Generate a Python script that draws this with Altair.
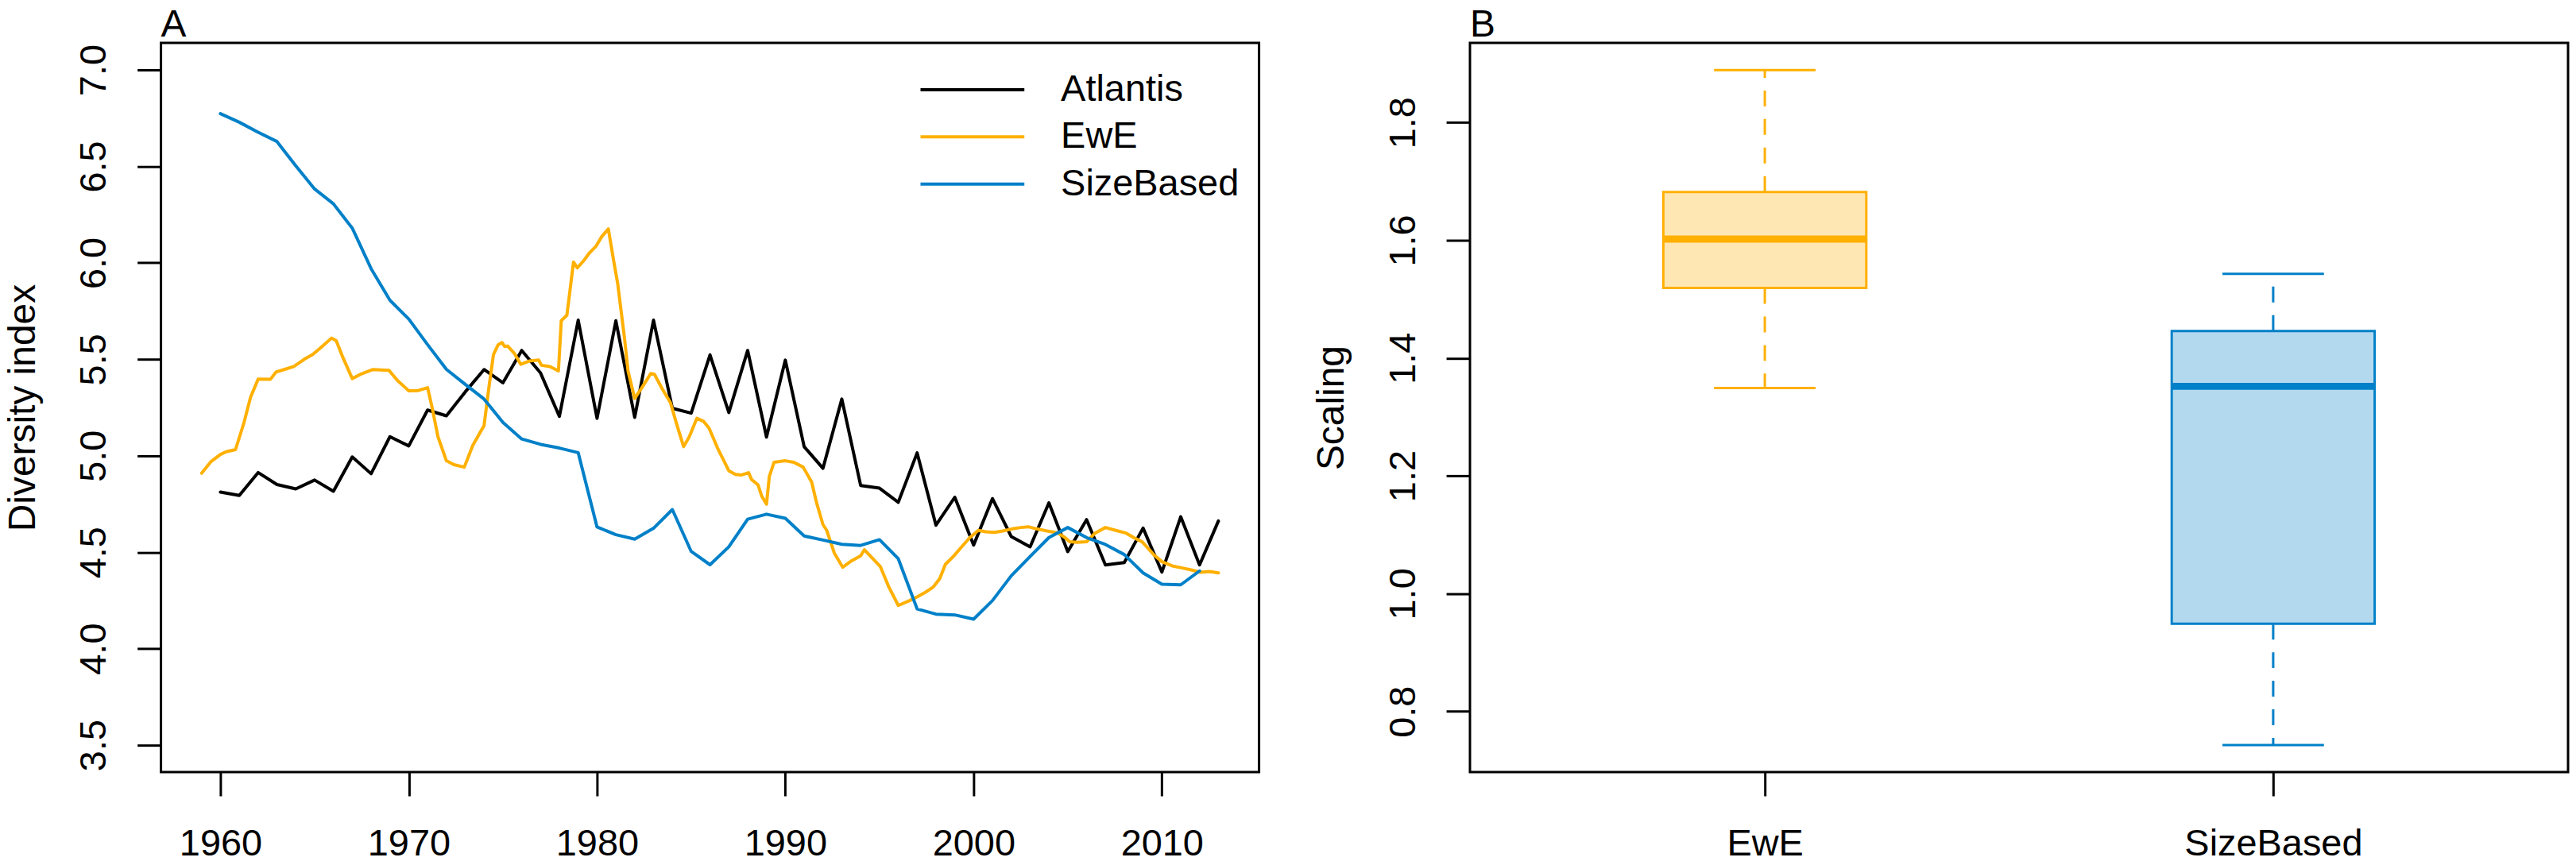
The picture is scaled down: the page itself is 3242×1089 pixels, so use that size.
import altair as alt
import pandas as pd

# ---------------- data: panel A ----------------
series_names = ["Atlantis", "EwE", "SizeBased"]
series_colors = ["#000000", "#FFB000", "#0080C8"]

atlantis_years = list(range(1960, 2014))
atlantis_vals = [4.812, 4.794, 4.913, 4.851, 4.828, 4.874, 4.816, 4.994, 4.907, 5.099,
                 5.051, 5.237, 5.207, 5.331, 5.447, 5.378, 5.546, 5.429, 5.204, 5.703,
                 5.194, 5.700, 5.199, 5.703, 5.246, 5.221, 5.523, 5.224, 5.546, 5.097,
                 5.496, 5.047, 4.935, 5.294, 4.846, 4.832, 4.759, 5.015, 4.640, 4.785,
                 4.537, 4.778, 4.581, 4.528, 4.756, 4.503, 4.669, 4.434, 4.446, 4.625,
                 4.397, 4.684, 4.434, 4.662]

sizebased_years = list(range(1960, 2013))
sizebased_vals = [6.773, 6.729, 6.677, 6.629, 6.503, 6.383, 6.306, 6.180, 5.970, 5.806,
                  5.709, 5.576, 5.448, 5.370, 5.294, 5.173, 5.087, 5.059, 5.040, 5.016,
                  4.631, 4.591, 4.568, 4.624, 4.721, 4.504, 4.435, 4.528, 4.671, 4.697,
                  4.676, 4.584, 4.563, 4.541, 4.535, 4.565, 4.466, 4.206, 4.179, 4.175,
                  4.153, 4.249, 4.378, 4.478, 4.576, 4.628, 4.576, 4.540, 4.488, 4.393,
                  4.334, 4.331, 4.403]

ewe_years = [1959.0, 1959.5, 1960.0, 1960.3, 1960.8, 1961.25, 1961.6, 1962.0, 1962.65, 1962.95,
             1963.45, 1963.9, 1964.45, 1964.9, 1965.35, 1965.9, 1966.15, 1966.5, 1967.0, 1967.5,
             1968.1, 1968.95, 1969.4, 1970.0, 1970.5, 1971.0, 1971.25, 1971.55, 1972.0, 1972.4,
             1972.95, 1973.4, 1974.0, 1974.25, 1974.5, 1974.75, 1974.95, 1975.1, 1975.25, 1975.6,
             1975.95, 1976.4, 1976.9, 1977.05, 1977.5, 1977.95, 1978.1, 1978.4, 1978.75, 1978.95,
             1979.3, 1979.6, 1979.95, 1980.25, 1980.6, 1980.9, 1981.1, 1981.45, 1981.65, 1982.0,
             1982.4, 1982.85, 1983.05, 1983.45, 1983.9, 1984.25, 1984.6, 1984.9, 1985.3, 1985.65,
             1985.95, 1986.4, 1987.0, 1987.35, 1987.65, 1988.05, 1988.2, 1988.55, 1988.75, 1989.0,
             1989.15, 1989.4, 1990.0, 1990.45, 1990.95, 1991.4, 1991.65, 1992.0, 1992.2, 1992.6,
             1993.05, 1993.45, 1994.0, 1994.2, 1994.65, 1995.05, 1995.5, 1996.0, 1996.6, 1997.0,
             1997.45, 1997.85, 1998.2, 1998.5, 1998.95, 1999.4, 1999.8, 2000.25, 2000.65, 2001.1,
             2001.55, 2002.05, 2002.5, 2002.9, 2003.35, 2003.9, 2004.45, 2004.85, 2005.1, 2005.5,
             2006.0, 2006.45, 2007.0, 2007.55, 2008.1, 2008.5, 2008.95, 2009.25, 2009.6, 2010.0,
             2010.55, 2011.1, 2011.6, 2012.05, 2012.5, 2013.0]
ewe_vals = [4.910, 4.970, 5.007, 5.021, 5.032, 5.172, 5.304, 5.397, 5.396, 5.434,
            5.449, 5.463, 5.500, 5.525, 5.562, 5.610, 5.596, 5.510, 5.400, 5.425,
            5.447, 5.443, 5.390, 5.337, 5.338, 5.353, 5.246, 5.099, 4.974, 4.954,
            4.941, 5.054, 5.157, 5.349, 5.525, 5.576, 5.587, 5.566, 5.569, 5.532,
            5.474, 5.491, 5.496, 5.469, 5.462, 5.440, 5.700, 5.729, 6.004, 5.974,
            6.012, 6.052, 6.087, 6.136, 6.176, 6.001, 5.891, 5.617, 5.438, 5.297,
            5.356, 5.426, 5.422, 5.349, 5.275, 5.157, 5.047, 5.099, 5.194, 5.179,
            5.143, 5.040, 4.922, 4.903, 4.900, 4.912, 4.878, 4.849, 4.790, 4.749,
            4.893, 4.966, 4.974, 4.966, 4.941, 4.863, 4.760, 4.643, 4.613, 4.496,
            4.422, 4.451, 4.481, 4.513, 4.466, 4.425, 4.319, 4.224, 4.249, 4.268,
            4.293, 4.319, 4.363, 4.437, 4.481, 4.532, 4.576, 4.613, 4.606, 4.603,
            4.610, 4.621, 4.628, 4.632, 4.621, 4.610, 4.601, 4.576, 4.554, 4.551,
            4.554, 4.599, 4.628, 4.613, 4.599, 4.576, 4.554, 4.522, 4.484, 4.451,
            4.429, 4.418, 4.407, 4.396, 4.400, 4.393]

x_ticks_a = [1960, 1970, 1980, 1990, 2000, 2010]
y_ticks_a = [3.5, 4.0, 4.5, 5.0, 5.5, 6.0, 6.5, 7.0]

# ---------------- data: panel B ----------------
box_cats = ["EwE", "SizeBased"]
box_line_colors = ["#FFB000", "#0080C8"]
box_fill_colors = ["#FFE7B3", "#B3D9EF"]
whisker_low = [1.349, 0.743]
quart1 = [1.519, 0.949]
medians = [1.602, 1.352]
quart3 = [1.682, 1.446]
whisker_high = [1.889, 1.543]
y_ticks_b = [0.8, 1.0, 1.2, 1.4, 1.6, 1.8]

FONT = "Liberation Sans"

df_lines = pd.concat([
    pd.DataFrame({"year": atlantis_years, "value": atlantis_vals, "model": "Atlantis"}),
    pd.DataFrame({"year": ewe_years, "value": ewe_vals, "model": "EwE"}),
    pd.DataFrame({"year": sizebased_years, "value": sizebased_vals, "model": "SizeBased"}),
], ignore_index=True)

df_box = pd.DataFrame({"model": box_cats, "lo": whisker_low, "q1": quart1,
                       "med": medians, "q3": quart3, "hi": whisker_high})


def y_axis(values, title, title_off):
    ext = 108
    return alt.Axis(values=values, format=".1f", title=title, domain=False, grid=False,
                    ticks=True, tickSize=30, tickWidth=3, tickColor="black",
                    labelAngle=270, labelAlign="center", labelBaseline="alphabetic",
                    labelPadding=40, labelFontSize=47, labelFont=FONT, labelColor="black",
                    labelFlush=False, labelOverlap=False, labelLimit=0,
                    titleFontSize=48, titleFont=FONT, titleFontWeight="normal",
                    titleColor="black", titleAngle=270, titleAlign="center",
                    titleBaseline="alphabetic", minExtent=ext, maxExtent=ext,
                    titlePadding=title_off - ext)


def x_axis(values=None, fmt=None):
    kw = dict(title=None, domain=False, grid=False, ticks=True, tickSize=30, tickWidth=3,
              tickColor="black", labelAngle=0, labelAlign="center",
              labelBaseline="alphabetic", labelPadding=75, labelFontSize=47,
              labelFont=FONT, labelColor="black", labelFlush=False, labelOverlap=False,
              labelLimit=0)
    if values is not None:
        kw["values"] = values
    if fmt is not None:
        kw["format"] = fmt
    return alt.Axis(**kw)


def panel_title(txt):
    return alt.TitleParams(txt, anchor="start", frame="group", fontSize=48, font=FONT,
                           fontWeight="normal", color="black", baseline="alphabetic",
                           offset=-40)


W, H = 1385, 920
VIEW = alt.ViewBackground(stroke="black", strokeWidth=3, fill="white")

panel_a = alt.Chart(df_lines).mark_line(strokeWidth=4, strokeJoin="round",
                                        strokeCap="round", opacity=1).encode(
    x=alt.X("year:Q", scale=alt.Scale(domain=[1956.84, 2015.16], nice=False, zero=False),
            axis=x_axis(x_ticks_a, "d")),
    y=alt.Y("value:Q", scale=alt.Scale(domain=[3.36, 7.14], nice=False, zero=False),
            axis=y_axis(y_ticks_a, "Diversity index", 159)),
    color=alt.Color("model:N", sort=series_names,
                    scale=alt.Scale(domain=series_names, range=series_colors),
                    legend=alt.Legend(title=None, orient="none", legendX=956, legendY=35.5,
                                      symbolType="stroke", symbolSize=17161,
                                      symbolStrokeWidth=4, labelFontSize=47, labelFont=FONT,
                                      labelColor="black", labelOffset=44, rowPadding=11.5,
                                      clipHeight=47, padding=0, labelLimit=0)),
).properties(width=W, height=H, title=panel_title("A"), view=VIEW)

yscale_b = alt.Scale(domain=[0.697, 1.935], nice=False, zero=False)
xenc_b = alt.X("model:N", scale=alt.Scale(type="point", domain=box_cats, padding=0.58),
               axis=x_axis())


def yb(field):
    return alt.Y(f"{field}:Q", scale=yscale_b, axis=y_axis(y_ticks_b, "Scaling", 160))


col_b = alt.Color("model:N", scale=alt.Scale(domain=box_cats, range=box_line_colors), legend=None)
base_b = alt.Chart(df_box)

whisk_hi = base_b.mark_rule(strokeWidth=3, strokeDash=[20, 16], opacity=1).encode(
    x=xenc_b, y=yb("q3"), y2="hi:Q", color=col_b)
whisk_lo = base_b.mark_rule(strokeWidth=3, strokeDash=[20, 16], opacity=1).encode(
    x=xenc_b, y=yb("q1"), y2="lo:Q", color=col_b)
cap_hi = base_b.mark_tick(size=128, thickness=3, opacity=1).encode(
    x=xenc_b, y=yb("hi"), color=col_b)
cap_lo = base_b.mark_tick(size=128, thickness=3, opacity=1).encode(
    x=xenc_b, y=yb("lo"), color=col_b)
box = base_b.mark_bar(size=256, strokeWidth=3, opacity=1).encode(
    x=xenc_b, y=yb("q1"), y2="q3:Q",
    fill=alt.Fill("model:N", scale=alt.Scale(domain=box_cats, range=box_fill_colors), legend=None),
    stroke=alt.Stroke("model:N", scale=alt.Scale(domain=box_cats, range=box_line_colors), legend=None))
med = base_b.mark_tick(size=256, thickness=9, opacity=1).encode(
    x=xenc_b, y=yb("med"), color=col_b)

panel_b = alt.layer(whisk_hi, whisk_lo, cap_hi, cap_lo, box, med).properties(
    width=W, height=H, title=panel_title("B"), view=VIEW)

# plot area A starts at page (203, 52); page margin is 8
chart = alt.hconcat(panel_a, panel_b, spacing=266, bounds="flush",
                    autosize=alt.AutoSizeParams(type="none"),
                    padding={"left": 195, "top": 44, "right": 3038, "bottom": 1029}
).resolve_scale(
    color="independent", fill="independent", stroke="independent"
).resolve_legend(color="independent").configure(
    background="white"
).configure_view(
    stroke="black", strokeWidth=3
)

chart.save("out.html", embed_options={"renderer": "svg", "actions": False})
